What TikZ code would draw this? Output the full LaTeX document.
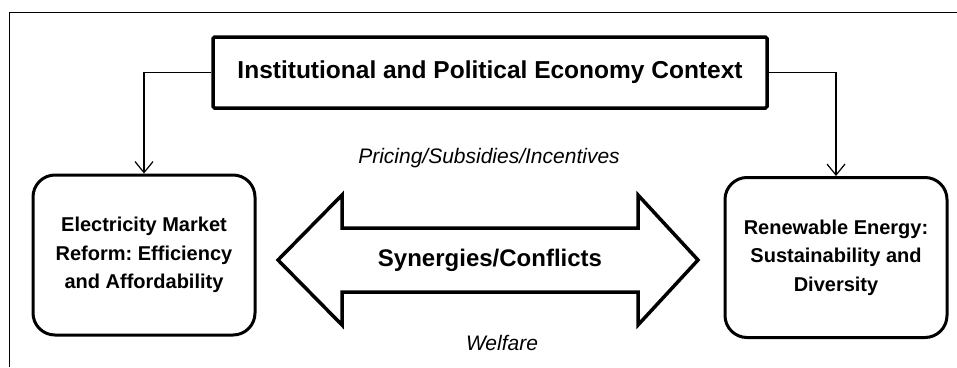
\documentclass[tikz,border=0pt]{standalone}
\usepackage{fontspec}
\setmainfont{Liberation Sans}
\usetikzlibrary{arrows.meta}
\frenchspacing

\begin{document}
\begin{tikzpicture}[x=1pt,y=-1pt,
  framebox/.style={draw,line width=3.5pt,rounded corners=1.5pt,
    minimum width=554pt,minimum height=71pt,font=\fontsize{24.5}{28}\selectfont\bfseries},
  goalbox/.style={draw,line width=3pt,rounded corners=22pt,align=center,
    minimum width=222pt,minimum height=160pt,font=\fontsize{20}{28.5}\selectfont\bfseries},
  link/.style={line width=1.2pt,-{Straight Barb[length=11pt,width=18pt]}},
  bigarrow/.style={draw,line width=3.5pt,miter limit=10},
  note/.style={font=\fontsize{21}{24}\selectfont\itshape}]
  \useasboundingbox (0,0) rectangle (957,367);
  \draw[line width=1pt] (9,367) -- (9,12) -- (957,12);

  \node[framebox] (ctx) at (490,72.5) {Institutional and Political Economy Context};
  \node[goalbox] (emr) at (144,255) {Electricity Market\\Reform: Efficiency\\and Affordability};
  \node[goalbox] (ren) at (836,257.5) {Renewable Energy:\\Sustainability and\\Diversity};

  \draw[link] (ctx.west) -| (emr.north);
  \draw[link] (ctx.east) -| (ren.north);

  % double arrow between the two goals
  \draw[bigarrow] (278,260) -- (342,195) -- (342,228) -- (638,228) -- (638,195)
    -- (698,260) -- (638,325) -- (638,292) -- (342,292) -- (342,325) -- cycle;
  \node[font=\fontsize{24}{28}\selectfont\bfseries] (syn) at (490,260) {Synergies/Conflicts};

  \node[note] (price) at (489,158) {Pricing/Subsidies/Incentives};
  \node[note] (welf) at (502,343) {Welfare};
\end{tikzpicture}
\end{document}
